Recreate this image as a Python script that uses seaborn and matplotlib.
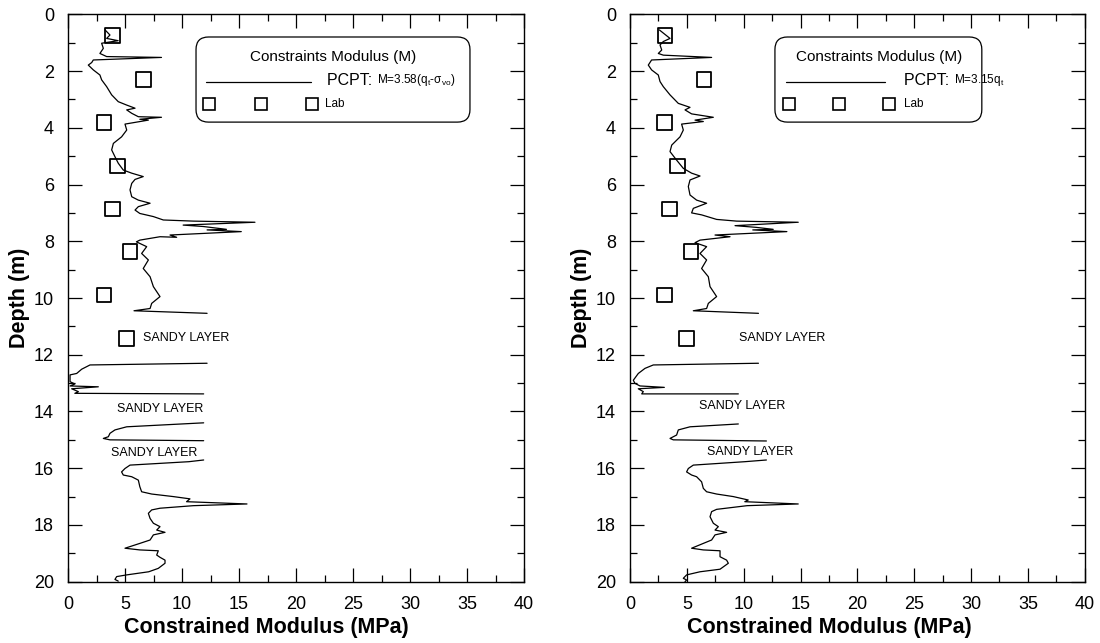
import numpy as np
import pandas as pd
import seaborn as sns
import matplotlib.pyplot as plt
from matplotlib.patches import FancyBboxPatch
from matplotlib.lines import Line2D
from matplotlib.ticker import MultipleLocator

# ---------------- data: left panel, M = 3.58(qt - svo) ----------------
L_a_M = [3.25, 3.68, 3.39, 4.4, 2.95, 3.1, 2.8, 3.39, 8.2, 2.22, 2.08, 1.78, 2.22, 2.8, 2.95, 3.39,
         3.83, 4.41, 5.15, 5.88, 5.15, 5.59, 6.17, 8.2, 6.3, 7.05, 5.0, 5.15, 4.7, 3.98, 3.83, 4.12,
         4.41, 4.85, 5.59, 6.6, 5.88, 5.59, 5.44, 5.59, 6.17, 7.2, 6.17, 5.88, 6.3, 7.49, 8.36, 11.0,
         16.4, 10.1, 11.87, 13.9, 12.2, 15.2, 8.95, 9.53, 8.07, 6.3, 6.0, 6.9, 6.46, 7.05, 6.6, 7.2,
         7.49, 8.07, 7.34, 7.2, 5.79, 12.2]
L_a_d = [0.55, 0.73, 0.85, 0.93, 1.02, 1.2, 1.38, 1.49, 1.52, 1.61, 1.7, 1.79, 1.96, 2.14, 2.31, 2.55,
         2.84, 3.08, 3.2, 3.31, 3.37, 3.49, 3.61, 3.63, 3.7, 3.73, 3.87, 4.08, 4.32, 4.55, 4.78, 5.02,
         5.25, 5.49, 5.6, 5.72, 5.82, 5.96, 6.19, 6.43, 6.55, 6.66, 6.78, 6.9, 7.02, 7.13, 7.25, 7.29,
         7.33, 7.43, 7.48, 7.58, 7.6, 7.66, 7.78, 7.86, 7.84, 7.96, 8.02, 8.19, 8.43, 8.66, 8.96, 9.25,
         9.6, 9.95, 10.19, 10.37, 10.45, 10.54]
L_b_M = [12.2, 1.93, 1.2, 0.76, 0.18, 0.18, 0.6, 0.18, 2.66, 0.32, 0.91, 0.6, 11.9]
L_b_d = [12.3, 12.36, 12.51, 12.66, 12.71, 12.95, 13.03, 13.1, 13.13, 13.2, 13.3, 13.36, 13.38]
L_c_M = [11.9, 5.15, 4.12, 3.68, 3.54, 3.1, 3.68, 11.9]
L_c_d = [14.4, 14.54, 14.65, 14.77, 14.89, 14.95, 15.0, 15.03]
L_d_M = [11.9, 10.6, 5.44, 5.0, 4.7, 4.85, 5.59, 6.17, 6.3, 6.46, 7.34, 9.24, 10.7, 10.4, 15.7, 11.0,
         8.07, 7.34, 7.05, 7.2, 7.49, 8.07, 7.78, 8.51, 7.49, 7.2, 6.3, 5.0, 6.3, 7.92, 7.78, 8.07,
         8.51, 8.51, 7.92, 7.08, 5.15, 4.27, 4.12, 4.41]
L_d_d = [15.71, 15.77, 15.89, 16.01, 16.13, 16.24, 16.3, 16.42, 16.65, 16.83, 16.91, 17.0, 17.08,
         17.18, 17.26, 17.32, 17.41, 17.47, 17.59, 17.77, 17.94, 18.06, 18.18, 18.26, 18.35, 18.53,
         18.65, 18.82, 18.88, 18.91, 19.06, 19.14, 19.24, 19.35, 19.53, 19.65, 19.76, 19.82, 19.92,
         19.98]
L_lab_M = [3.92, 6.6, 3.16, 4.33, 3.92, 5.44, 3.16, 5.15]
L_lab_d = [0.75, 2.29, 3.81, 5.34, 6.86, 8.37, 9.9, 11.42]

# ---------------- data: right panel, M = 3.15 qt ----------------
R_a_M = [2.58, 3.52, 2.93, 2.64, 2.79, 2.49, 2.93, 7.18, 1.9, 1.61, 1.9, 2.49, 2.64, 2.93, 3.52,
         4.25, 5.28, 4.84, 5.42, 7.33, 5.72, 6.45, 4.54, 4.69, 4.4, 3.67, 3.52, 4.1, 4.69, 5.42,
         6.16, 5.28, 5.13, 5.28, 5.86, 6.74, 5.57, 5.42, 6.3, 7.62, 9.38, 14.8, 9.24, 11.1, 12.6,
         10.8, 13.8, 7.48, 8.8, 6.16, 5.72, 6.74, 6.16, 6.74, 6.3, 6.89, 7.04, 7.62, 6.89, 6.74,
         5.57, 11.3]
R_a_d = [0.55, 0.85, 0.96, 1.08, 1.26, 1.38, 1.44, 1.52, 1.61, 1.79, 1.96, 2.14, 2.37, 2.55, 2.84,
         3.14, 3.28, 3.37, 3.51, 3.63, 3.73, 3.78, 3.87, 4.08, 4.32, 4.61, 4.84, 5.14, 5.43, 5.6,
         5.7, 5.84, 6.07, 6.37, 6.55, 6.66, 6.84, 7.0, 7.07, 7.23, 7.29, 7.33, 7.45, 7.51, 7.58,
         7.6, 7.66, 7.78, 7.84, 7.96, 8.05, 8.19, 8.43, 8.66, 8.96, 9.25, 9.6, 9.95, 10.19, 10.37,
         10.45, 10.54]
R_b_M = [11.3, 2.05, 1.32, 0.73, 0.29, 0.44, 0.88, 3.02, 0.73, 1.17, 1.03, 9.53]
R_b_d = [12.3, 12.36, 12.48, 12.66, 12.9, 13.01, 13.1, 13.15, 13.2, 13.3, 13.38, 13.38]
R_c_M = [9.53, 5.28, 4.25, 4.1, 3.52, 3.81, 12.0]
R_c_d = [14.44, 14.54, 14.65, 14.83, 14.95, 15.0, 15.04]
R_d_M = [12.0, 10.1, 5.57, 5.13, 4.98, 5.42, 5.86, 6.3, 6.45, 6.74, 7.62, 9.09, 10.4, 10.1, 14.8,
         10.3, 7.62, 7.18, 7.04, 7.33, 7.77, 7.48, 8.5, 7.48, 7.18, 6.45, 5.42, 6.45, 7.92, 7.92,
         8.5, 8.65, 7.92, 6.16, 4.98, 4.69, 4.98, 4.84]
R_d_d = [15.71, 15.77, 15.89, 16.01, 16.13, 16.24, 16.3, 16.48, 16.71, 16.83, 16.91, 17.0, 17.12,
         17.18, 17.26, 17.32, 17.45, 17.53, 17.71, 17.94, 18.06, 18.18, 18.26, 18.35, 18.53, 18.65,
         18.82, 18.88, 18.91, 19.12, 19.24, 19.35, 19.56, 19.65, 19.76, 19.88, 19.94, 20.0]
R_lab_M = [3.08, 6.5, 3.05, 4.19, 3.46, 5.37, 3.05, 4.99]
R_lab_d = [0.75, 2.29, 3.81, 5.34, 6.86, 8.37, 9.9, 11.42]

# annotation texts (label, M, depth)
L_sandy = [("SANDY LAYER", 6.6, 11.42), ("SANDY LAYER", 4.27, 13.92), ("SANDY LAYER", 3.75, 15.45)]
R_sandy = [("SANDY LAYER", 9.6, 11.42), ("SANDY LAYER", 6.1, 13.8), ("SANDY LAYER", 6.8, 15.42)]

x_ticks = [0, 5, 10, 15, 20, 25, 30, 35, 40]
y_ticks = [0, 2, 4, 6, 8, 10, 12, 14, 16, 18, 20]


def profile_frame(segs):
    rows = []
    for i, (m, d) in enumerate(segs):
        for mm, dd in zip(m, d):
            rows.append({"M": mm, "depth": dd, "seg": i})
    return pd.DataFrame(rows)


sns.set_theme(style="white")
plt.rcParams["font.family"] = ["Liberation Sans", "DejaVu Sans"]
plt.rcParams["mathtext.fontset"] = "custom"
plt.rcParams["mathtext.rm"] = "Liberation Sans"
plt.rcParams["text.color"] = "black"
plt.rcParams["axes.labelcolor"] = "black"

fig = plt.figure(figsize=(11, 6.43), dpi=100)
ax1 = fig.add_axes([68 / 1100, 1 - 581.7 / 643, 456 / 1100, 567.4 / 643])
ax2 = fig.add_axes([630 / 1100, 1 - 581.7 / 643, 454.7 / 1100, 567.4 / 643])

panels = [
    (ax1, [(L_a_M, L_a_d), (L_b_M, L_b_d), (L_c_M, L_c_d), (L_d_M, L_d_d)], L_lab_M, L_lab_d, L_sandy,
     dict(box=(11.23, 0.80, 24.03, 3.0), title_x=23.3, line=(12.1, 21.3), pcpt_x=22.7,
          sq=[12.4, 16.9, 21.4], lab_x=22.55, xlab=0.434,
          eq=r"M=3.58(q$_\mathregular{t}$-σ$_\mathregular{vo}$)")),
    (ax2, [(R_a_M, R_a_d), (R_b_M, R_b_d), (R_c_M, R_c_d), (R_d_M, R_d_d)], R_lab_M, R_lab_d, R_sandy,
     dict(box=(12.75, 0.80, 18.2, 3.0), title_x=21.9, line=(13.72, 22.43), pcpt_x=24.1,
          sq=[13.98, 18.4, 22.8], lab_x=24.1, xlab=0.438,
          eq=r"M=3.15q$_\mathregular{t}$")),
]

for ax, segs, lab_m, lab_d, sandy, lg in panels:
    df = profile_frame(segs)
    sns.lineplot(data=df, x="M", y="depth", units="seg", estimator=None, sort=False,
                 color="black", lw=0.9, ax=ax, legend=False)
    lab = pd.DataFrame({"M": lab_m, "depth": lab_d})
    sns.scatterplot(data=lab, x="M", y="depth", marker="s", s=110, facecolors="none",
                    edgecolor="black", linewidth=1.3, ax=ax, legend=False, zorder=3)
    for txt, m, d in sandy:
        ax.text(m, d, txt, fontsize=9, va="center", ha="left", color="black")

    # legend box
    bx, by, bw, bh = lg["box"]
    ax.add_patch(FancyBboxPatch((bx, by), bw, bh, boxstyle="round,pad=0,rounding_size=1.1",
                                mutation_aspect=0.4, fc="white", ec="black", lw=0.9, zorder=4))
    ax.text(lg["title_x"], 1.51, "Constraints Modulus (M)", fontsize=11, ha="center",
            va="center", zorder=5)
    ax.add_line(Line2D(list(lg["line"]), [2.38, 2.38], color="black", lw=0.9, zorder=5))
    t = ax.text(lg["pcpt_x"], 2.32, "PCPT: ", fontsize=11.5, ha="left", va="center", zorder=5)
    ax.annotate(lg["eq"], xycoords=t, xy=(1, 0.5), va="center", ha="left", fontsize=8.5, zorder=5)
    for sx in lg["sq"]:
        ax.plot([sx], [3.16], marker="s", ms=9, mfc="white", mec="black", mew=1.2, zorder=5)
    ax.text(lg["lab_x"], 3.16, "Lab", fontsize=8.5, ha="left", va="center", zorder=5)

    ax.set_xlim(0, 40)
    ax.set_ylim(20, 0)
    ax.set_xticks(x_ticks)
    ax.set_yticks(y_ticks)
    ax.xaxis.set_minor_locator(MultipleLocator(2.5))
    ax.yaxis.set_minor_locator(MultipleLocator(1))
    ax.tick_params(which="both", direction="in", top=True, right=True, bottom=True, left=True,
                   labelsize=13, colors="black", width=0.9)
    ax.tick_params(which="major", length=10, pad=10)
    ax.tick_params(which="minor", length=5)
    for sp in ax.spines.values():
        sp.set_visible(True)
        sp.set_color("black")
        sp.set_linewidth(1.0)
    ax.set_xlabel("Constrained Modulus (MPa)", fontsize=15.5, fontweight="bold", labelpad=1,
                  color="black")
    ax.set_ylabel("Depth (m)", fontsize=15.5, fontweight="bold", labelpad=3, color="black")
    ax.xaxis.set_label_coords(lg["xlab"], -0.063)
    ax.xaxis.label.set_va("top")
    ax.set_facecolor("white")

fig.savefig("out.png", dpi=100, facecolor="white")
